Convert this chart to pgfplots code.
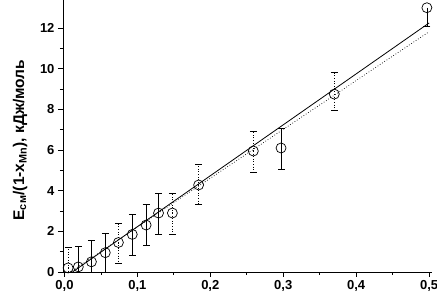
\documentclass[border=0pt]{standalone}
\usepackage{fontspec}
\setmainfont{Liberation Sans}
\usepackage{pgfplots}
\usepackage{pgfplotstable}
\pgfplotsset{compat=1.18}
\pgfplotstableread{
x y ep em
0.019 0.25 1.0 1.0
0.037 0.50 1.05 1.0
0.056 0.95 0.95 1.0
0.093 1.85 1.0 1.05
0.112 2.31 1.0 1.0
0.129 2.90 0.95 1.03
0.297 6.10 0.98 1.03
}\solidpts
\pgfplotstableread{
x y ep em
0.497 13.00 0.0 0.9
}\toppt
\pgfplotstableread{
x y ep em
0.005 0.20 1.0 1.0
0.074 1.45 0.95 1.0
0.148 2.90 0.95 1.03
0.184 4.28 1.0 0.95
0.259 5.95 0.95 1.05
0.370 8.75 1.05 0.8
}\dottedpts
\begin{document}
\begin{tikzpicture}
\useasboundingbox (-63pt,-22pt) rectangle (374pt,272pt);
\begin{axis}[
 scale only axis, width=369pt, height=272pt,
 xmin=-0.002, xmax=0.504, ymin=0, ymax=13.38,
 axis x line*=bottom, axis y line*=left,
 axis line style={line width=0.8pt},
 xtick={0,0.1,0.2,0.3,0.4,0.5}, ytick={0,2,4,6,8,10,12},
 minor x tick num=1, minor y tick num=1,
 tick align=outside, major tick length=5pt, minor tick length=3pt,
 tick style={line width=0.7pt, black},
 xticklabel style={/pgf/number format/.cd, fixed, fixed zerofill, precision=1, use comma},
 /pgf/number format/assume math mode=true,
 tick label style={font=\fontsize{13}{15}\selectfont\bfseries},
 ylabel={\bfseries E\textsubscript{см}/(1-x\textsubscript{Mn}), кДж/моль},
 ylabel style={font=\fontsize{15.5}{17}\selectfont, at={(axis description cs:-0.1165,0.485)}, anchor=center},
 error bars/error mark options={rotate=90, mark size=3.5pt, line width=0.6pt},
]
\addplot[black, line width=0.8pt] coordinates {(0.011,0) (0.5,12.25)};
\addplot[black, line width=0.7pt, dotted] coordinates {(0.008,0) (0.5,11.82)};
\addplot[only marks, mark=o, mark size=5pt, mark options={line width=0.7pt, black},
 error bars/.cd, y dir=both, y explicit, error bar style={line width=0.6pt, black}]
 table[x=x, y=y, y error plus=ep, y error minus=em] {\solidpts};
\addplot[only marks, mark=o, mark size=5pt, mark options={line width=0.7pt, black},
 error bars/.cd, y dir=minus, y explicit, error bar style={line width=0.6pt, black}]
 table[x=x, y=y, y error plus=ep, y error minus=em] {\toppt};
\addplot[only marks, mark=o, mark size=5pt, mark options={line width=0.7pt, black, solid},
 error bars/.cd, y dir=both, y explicit, error bar style={line width=0.6pt, black, dotted}]
 table[x=x, y=y, y error plus=ep, y error minus=em] {\dottedpts};
\end{axis}
\end{tikzpicture}
\end{document}
